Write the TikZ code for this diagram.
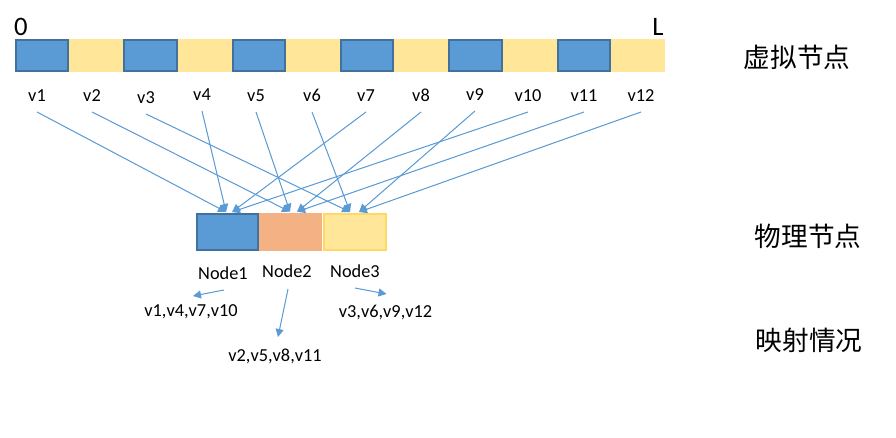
\documentclass[tikz,border=0pt]{standalone}
\usepackage{fontspec}
\setmainfont{Carlito}
\newfontfamily\cjkfont{Noto Sans CJK SC}
\usetikzlibrary{arrows.meta,positioning}
\definecolor{slotblue}{RGB}{91,155,213}
\definecolor{slotedge}{RGB}{65,113,156}
\definecolor{slotyellow}{RGB}{255,230,153}
\definecolor{slotorange}{RGB}{244,177,131}
\definecolor{yellowedge}{RGB}{255,217,102}
\definecolor{ink}{RGB}{0,0,0}
\tikzset{
    blueslot/.style={fill=slotblue, draw=slotedge, line width=1.5pt},
    yellowslot/.style={fill=slotyellow},
    physnode/.style={
        rectangle,
        inner sep=0pt,
        minimum width=45.75pt,
        minimum height=27pt
    },
    physblue/.style={physnode, fill=slotblue, draw=slotedge, line width=1.5pt},
    physorange/.style={physnode, fill=slotorange, minimum width=47.25pt, minimum height=28.5pt},
    physyellow/.style={physnode, fill=slotyellow, draw=yellowedge, line width=1.5pt, minimum width=46.5pt},
    vlabel/.style={font=\fontsize{13.75}{16}\selectfont, text=ink, anchor=base, inner sep=1pt},
    plainlabel/.style={font=\fontsize{13.75}{16}\selectfont, text=ink},
    endlabel/.style={font=\fontsize{20}{24}\selectfont, text=ink},
    sidelabel/.style={font=\cjkfont\fontsize{20}{24}\selectfont, text=ink},
    maparrow/.style={
        -{Triangle[length=6pt, width=6pt]},
        draw=slotblue,
        fill=slotblue,
        line width=0.75pt
    }
}

\begin{document}
\begin{tikzpicture}[x=0.75pt, y=-0.75pt]

\useasboundingbox (0,0) rectangle (896,438);

\def\barx{15}
\def\segw{54.17}

% virtual ring, 12 slots from 0 to L
\foreach \i in {1,3,...,11} {
    \fill[yellowslot] (\barx+\i*\segw, 39) rectangle (\barx+\i*\segw+\segw, 72);
}
\foreach \i in {0,2,...,10} {
    \draw[blueslot] (\barx+\i*\segw+1, 40) rectangle (\barx+\i*\segw+\segw-1, 71);
}

\node[endlabel] (zero) at (21, 27) {0};
\node[endlabel] (len) at (658, 27) {L};

\foreach \i/\x/\y in {1/37/102, 2/92/102, 3/146/104, 4/202/101, 5/256/102, 6/312/102,
                      7/366/102, 8/421/102, 9/475/101, 10/528/102, 11/584/102, 12/641/102} {
    \node[vlabel] (v\i) at (\x, \y) {v\i};
}

% physical nodes
\node[physblue] (pn1) at (227.5, 232) {};
\node[physorange] (pn2) at (290.5, 232) {};
\node[physyellow] (pn3) at (355, 232) {};

\foreach \i/\t/\dx in {1/pn1/-1.1pt, 4/pn1/-1.1pt, 7/pn1/3.4pt, 10/pn1/3.4pt,
                       2/pn2/-0.4pt, 5/pn2/-0.4pt, 8/pn2/4.9pt, 11/pn2/4.9pt,
                       3/pn3/-3.7pt, 6/pn3/-3.7pt, 9/pn3/3pt, 12/pn3/3pt} {
    \draw[maparrow] ([yshift=-7.5pt]v\i.base) -- ([xshift=\dx, yshift=0.75pt]\t.north);
}

\node[plainlabel] (n1lab) at (223, 273) {Node1};
\node[plainlabel] (n2lab) at (287, 271) {Node2};
\node[plainlabel] (n3lab) at (355, 271) {Node3};

\node[plainlabel] (m1) at (191, 312) {v1,v4,v7,v10};
\node[plainlabel] (m2) at (275, 356) {v2,v5,v8,v11};
\node[plainlabel] (m3) at (385.5, 312) {v3,v6,v9,v12};

\draw[maparrow] ([xshift=0.75pt, yshift=-12.75pt]n1lab.center) -- ([xshift=1.5pt, yshift=12pt]m1.center);
\draw[maparrow] ([xshift=0.75pt, yshift=-13.5pt]n2lab.center) -- ([xshift=2.25pt, yshift=14.25pt]m2.center);
\draw[maparrow] ([xshift=0pt, yshift=-12.75pt]n3lab.center) -- ([xshift=0.75pt, yshift=13.5pt]m3.center);

\node[sidelabel] (lvirt) at (797, 57) {虚拟节点};
\node[sidelabel] (lphys) at (808, 236) {物理节点};
\node[sidelabel] (lmap) at (809, 340) {映射情况};

\end{tikzpicture}
\end{document}
